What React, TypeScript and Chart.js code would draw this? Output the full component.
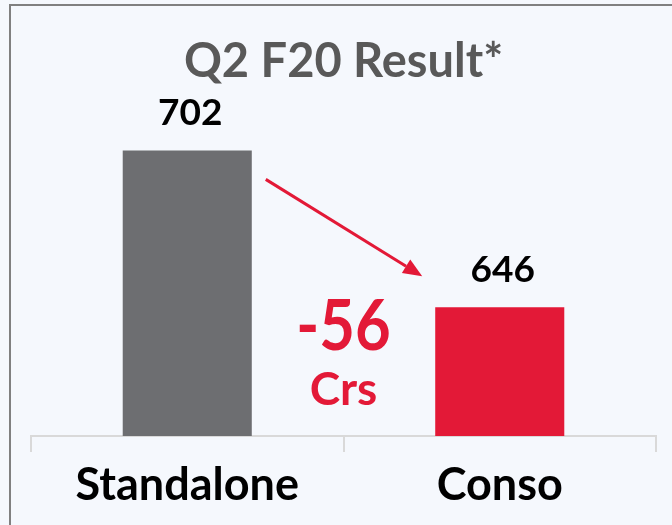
import React, { useEffect, useRef } from "react";
import { Chart, registerables } from "chart.js";

Chart.register(...registerables);

const categories = ["Standalone", "Conso"];
const values = [702, 646];
const barColors = ["#6d6e71", "#e31937"];
const titleText = "Q2 F20 Result*";
const unitText = "Crs";
const yMin = 600;
const yMax = 750;

const FONT = "Lato, 'Open Sans', sans-serif";
const RED = "#e31937";

function scaledText(ctx: any, text: string, x: number, y: number, sx: number) {
  ctx.save();
  ctx.translate(x, y);
  ctx.scale(sx, 1);
  ctx.fillText(text, 0, 0);
  ctx.restore();
}

const annotationPlugin = {
  id: "annot",
  afterDatasetsDraw(chart: any) {
    const { ctx, chartArea, scales } = chart;
    const meta = chart.getDatasetMeta(0);
    ctx.save();
    ctx.textAlign = "center";
    ctx.textBaseline = "alphabetic";

    // title
    ctx.fillStyle = "#595959";
    ctx.font = `bold 47px ${FONT}`;
    ctx.fillText(titleText, (chartArea.left + chartArea.right) / 2, chartArea.top + 61);

    // value labels
    ctx.fillStyle = "#000000";
    ctx.font = `bold 37px ${FONT}`;
    meta.data.forEach((bar: any, i: number) => {
      ctx.fillText(String(values[i]), bar.x + 3, bar.y - 25);
    });

    // arrow
    const b0 = meta.data[0];
    const b1 = meta.data[1];
    const sx = b0.x + b0.width / 2 + 14;
    const sy = b0.y + 29;
    const ex = b1.x - b1.width / 2 - 13;
    const ey = b1.y - 31;
    const ang = Math.atan2(ey - sy, ex - sx);
    const headLen = 19;
    const headHalf = 8;
    const bx = ex - headLen * Math.cos(ang);
    const by = ey - headLen * Math.sin(ang);
    ctx.strokeStyle = RED;
    ctx.lineWidth = 3;
    ctx.beginPath();
    ctx.moveTo(sx, sy);
    ctx.lineTo(bx, by);
    ctx.stroke();
    ctx.fillStyle = RED;
    ctx.beginPath();
    ctx.moveTo(ex, ey);
    ctx.lineTo(bx + headHalf * Math.sin(ang), by - headHalf * Math.cos(ang));
    ctx.lineTo(bx - headHalf * Math.sin(ang), by + headHalf * Math.cos(ang));
    ctx.closePath();
    ctx.fill();

    // difference
    const diff = values[1] - values[0];
    const mx = (scales.x.getPixelForValue(0) + scales.x.getPixelForValue(1)) / 2;
    ctx.fillStyle = RED;
    ctx.font = `bold 70px ${FONT}`;
    scaledText(ctx, String(diff), mx, b1.y + 43, 0.88);
    ctx.font = `bold 46px ${FONT}`;
    ctx.fillText(unitText, mx, b1.y + 98);

    ctx.restore();
  },
};

export default function App() {
  const ref = useRef<HTMLCanvasElement | null>(null);

  useEffect(() => {
    if (!ref.current) return;
    const chart = new Chart(ref.current, {
      type: "bar",
      data: {
        labels: categories,
        datasets: [
          {
            data: values,
            backgroundColor: barColors,
            borderWidth: 0,
            barPercentage: 0.413,
            categoryPercentage: 1,
          },
        ],
      },
      options: {
        responsive: false,
        animation: false,
        devicePixelRatio: 1,
        layout: { padding: { left: 31, right: 16, top: 16, bottom: 0 } },
        plugins: {
          legend: { display: false },
          title: { display: false },
          tooltip: { enabled: false },
        },
        scales: {
          y: {
            display: false,
            min: yMin,
            max: yMax,
          },
          x: {
            offset: true,
            grid: {
              offset: true,
              drawOnChartArea: false,
              drawTicks: true,
              tickLength: 16,
              color: "#d9d9d9",
              lineWidth: 2,
            },
            border: { display: true, color: "#d9d9d9", width: 2 },
            ticks: {
              color: "#000000",
              font: { family: FONT, size: 45, weight: "bold" },
              padding: 6,
              maxRotation: 0,
              autoSkip: false,
            },
            afterFit: (scale: any) => {
              scale.height = 89;
            },
          },
        },
      },
      plugins: [annotationPlugin],
    });
    return () => chart.destroy();
  }, []);

  return (
    <div
      style={{
        position: "fixed",
        left: 0,
        top: 0,
        width: 672,
        height: 525,
        background: "#f5f8fd",
        overflow: "hidden",
      }}
    >
      <div
        style={{
          position: "absolute",
          left: 9,
          top: 4,
          right: -10,
          bottom: -10,
          borderTop: "2px solid #808080",
          borderLeft: "2px solid #808080",
        }}
      />
      <canvas
        ref={ref}
        width={672}
        height={525}
        style={{ position: "absolute", left: 0, top: 0, width: 672, height: 525 }}
      />
    </div>
  );
}
